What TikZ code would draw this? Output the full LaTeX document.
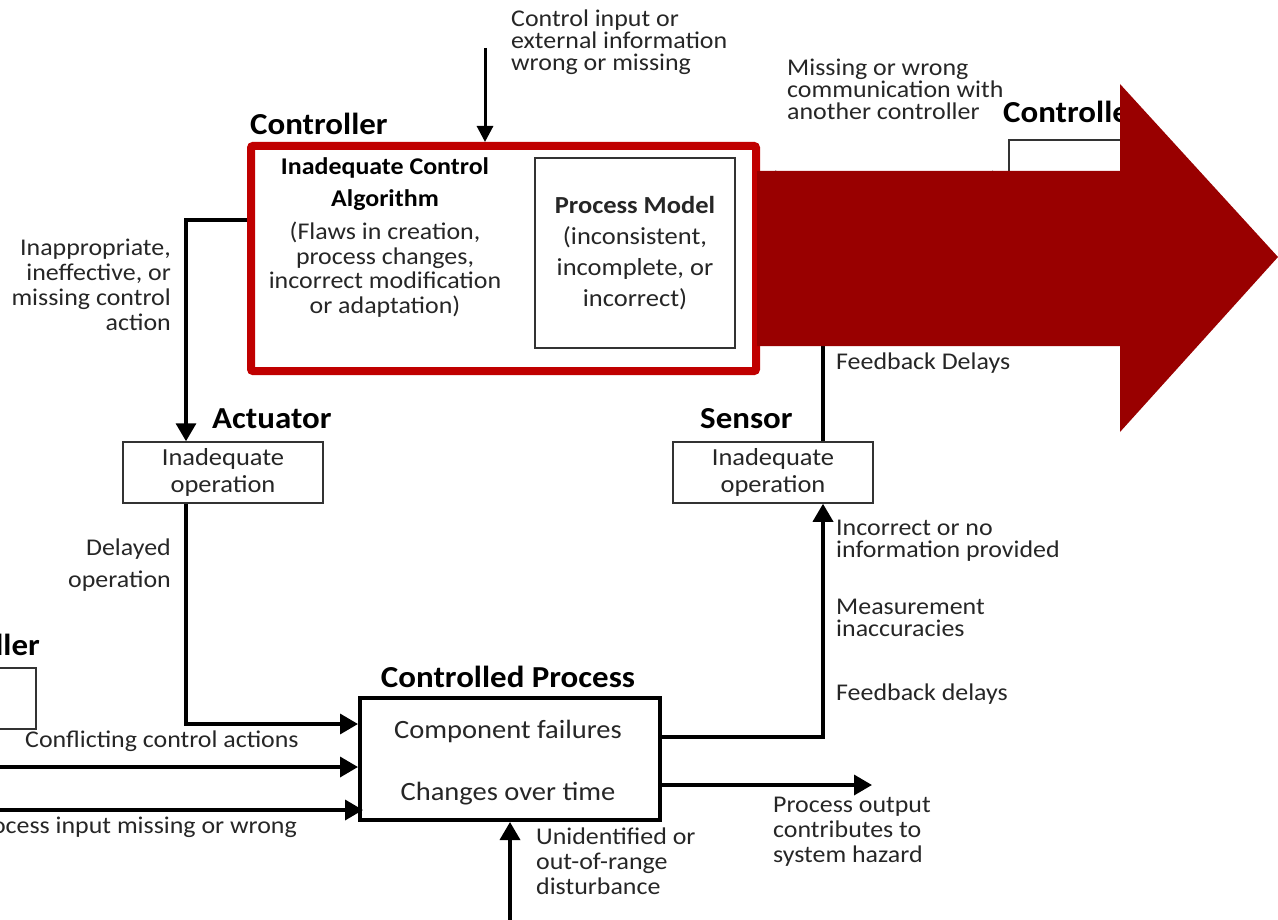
\documentclass[tikz,border=0pt]{standalone}
\usepackage{fontspec}
\setmainfont{Carlito}[FakeStretch=1.08]
\usetikzlibrary{arrows.meta,calc,positioning}
\definecolor{ctrlred}{HTML}{C00000}
\definecolor{bigred}{HTML}{990000}
\definecolor{inkgray}{HTML}{262626}
\newcommand\setfs[2]{\fontsize{#1}{#2}\selectfont}

\begin{document}
\begin{tikzpicture}[x=1pt, y=-1pt,
  title/.style={inner sep=0pt, font=\setfs{30.5}{31}\bfseries},
  note/.style={inner sep=0pt, text=inkgray, font=\setfs{24}{22}},
  box/.style={draw=black!80, line width=1.5pt, fill=white, inner sep=0pt,
    align=center, text=inkgray, font=\setfs{24.5}{27}},
  procitem/.style={inner sep=0pt, text=inkgray, font=\setfs{26.4}{27}},
  redbox/.style={draw=ctrlred, line width=8pt, rounded corners=2pt},
  flow/.style={line width=3.5pt, -{Triangle[length=18pt,width=20pt]}}]
  \useasboundingbox (0,0) rectangle (1278,920);
  \clip (0,0) rectangle (1278,920);

  % Controller
  \node[redbox, minimum width=505pt, minimum height=225pt] (ctrl) at (503.5,258.5) {};
  \node[title, anchor=base west] (ctrllbl) at (250,135) {Controller};
  \node[inner sep=0pt, align=center, font=\setfs{24}{32}\bfseries, anchor=north]
    (alghead) at (385,157) {Inadequate Control\\Algorithm};
  \node[inner sep=0pt, align=center, text=inkgray, font=\setfs{24}{24.5}, anchor=north]
    (algtext) at (385,222) {(Flaws in creation,\\process changes,\\incorrect modification\\or adaptation)};
  \node[box, minimum width=200pt, minimum height=190pt, font=\setfs{24.5}{31}]
    (pm) at (635,253) {\textbf{Process Model}\\(inconsistent,\\incomplete, or\\incorrect)};

  % other controllers
  \node[box, minimum width=150pt, minimum height=130pt] (ctrl2) at (1084,205) {};
  \node[title, anchor=base west] (ctrl2lbl) at (1003,123) {Controller};
  \node[box, minimum width=150pt, minimum height=61pt] (ctrl3) at (-39,698.5) {};
  \node[title, anchor=base east] (ctrl3lbl) at (40,655) {Controller};

  % Actuator and Sensor
  \node[title, anchor=base west] (actlbl) at (212,428) {Actuator};
  \node[box, minimum width=200pt, minimum height=61pt] (act) at (223,472.5) {Inadequate\\operation};
  \node[title, anchor=base west] (senlbl) at (700,428) {Sensor};
  \node[box, minimum width=200pt, minimum height=61pt] (sen) at (773,472.5) {Inadequate\\operation};

  % Controlled process
  \node[title, anchor=base] (proclbl) at (508,687) {Controlled Process};
  \node[box, draw=black, line width=4pt, minimum width=300pt, minimum height=122pt] (proc) at (510,759) {};
  \node[procitem, anchor=base] (fail) at ([xshift=-2pt,yshift=21pt]proc.center) {Component failures};
  \node[procitem, anchor=base] (chg) at ([xshift=-2pt,yshift=-41pt]proc.center) {Changes over time};

  % connectors
  \coordinate (extin) at (485,48);
  \draw[flow, line width=3pt, -{Triangle[length=16pt,width=16pt]}] (extin) -- (extin |- ctrl.north);
  \draw[flow, {Triangle[length=16pt,width=18pt]}-{Triangle[length=16pt,width=18pt]}]
    ([yshift=78.5pt]ctrl.east) -- ([yshift=25pt]ctrl2.west);
  \draw[flow] ([yshift=38.5pt]ctrl.west) -| ([xshift=-37pt]act.north);
  \draw[flow] ([xshift=-37pt]act.south) |- ([yshift=35pt]proc.west);
  \coordinate (inA) at (-20,767);
  \coordinate (inB) at (-20,810);
  \draw[flow] (inA) -- (inA -| proc.west);
  \draw[flow] (inB) -- ([xshift=5pt]inB -| proc.west);
  \draw[flow] ([yshift=22pt]proc.east) -| ([xshift=50pt]sen.south);
  \draw[flow] ([xshift=50pt]sen.north) |- ([yshift=-30pt]ctrl.east);
  \coordinate (hazard) at (872,785);
  \draw[flow] (proc.east |- hazard) -- (hazard);
  \coordinate (dist) at (510,930);
  \draw[flow] (dist) -- (proc.south);

  % failure notes
  \node[note, align=left, anchor=north west] (extnote) at (511,10)
    {Control input or\\external information\\wrong or missing};
  \node[note, align=left, anchor=north west] (commnote) at (787,59)
    {Missing or wrong\\communication with\\another controller};
  \node[note, align=right, anchor=north east, font=\setfs{24}{25}] (canote) at (171,239)
    {Inappropriate,\\ineffective, or\\missing control\\action};
  \node[note, align=right, anchor=north east, font=\setfs{24}{32}] (delnote) at (171,539)
    {Delayed\\operation};
  \node[note, anchor=base west] (conflnote) at (25,747) {Conflicting control actions};
  \node[note, anchor=base east] (innote) at (297,833) {Process input missing or wrong};
  \node[note, anchor=base west] (fbnote) at (836,370) {Feedback Delays};
  \node[note, align=left, anchor=north west] (infonote) at (836,520)
    {Incorrect or no\\information provided};
  \node[note, align=left, anchor=north west] (measnote) at (836,599)
    {Measurement\\inaccuracies};
  \node[note, anchor=base west] (fbnote2) at (836,700) {Feedback delays};
  \node[note, align=left, anchor=north west, font=\setfs{24}{25}] (haznote) at (773,797)
    {Process output\\contributes to\\system hazard};
  \node[note, align=left, anchor=north west, font=\setfs{24}{25}] (distnote) at (536,828)
    {Unidentified or\\out-of-range\\disturbance};

  % big arrow
  \fill[bigred] (757,171) -- (1120,171) -- (1120,84) -- (1278,257) -- (1120,432)
    -- (1120,346) -- (757,346) -- cycle;
\end{tikzpicture}
\end{document}
